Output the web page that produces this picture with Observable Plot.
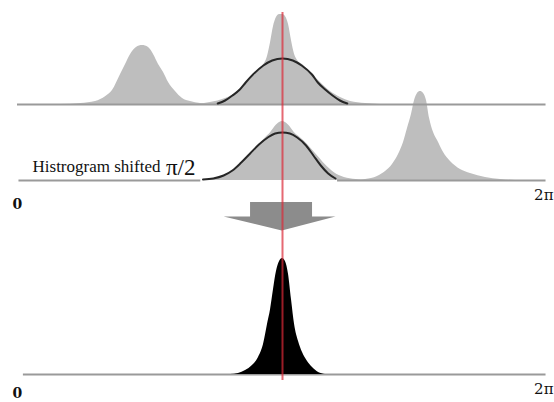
<!DOCTYPE html>
<html>
<head>
<meta charset="utf-8">
<script src="https://cdn.jsdelivr.net/npm/d3@7"></script>
<script src="https://cdn.jsdelivr.net/npm/@observablehq/plot@0.6"></script>
<style>
  html, body { margin: 0; padding: 0; background: #fff; }
  #chart { width: 554px; height: 402px; }
</style>
</head>
<body>
<div id="chart"></div>
<script>
// ---- Data (phase in degrees 0..360, histogram counts) ----
// Panel 1: original histogram
const hist1Left = [[29,0],[43,1],[53,3],[60,8],[64.5,14],[70,30],[73.4,40],[76.8,50],[80.8,57],[84.9,59],[89,57],[92.4,50],[95.8,40],[99.2,32],[102.6,22],[107.3,13],[112.1,6],[117.5,3],[124.3,1],[134.5,0]];
const hist1Center = [[121,0],[131,2],[141.3,6],[148.1,11],[154.9,20],[161.7,30],[166.4,38],[169.8,48],[171.9,62],[173.9,78],[175.9,87],[178,90],[180,90],[182,88],[184.1,80],[186.1,64],[188.2,50],[190.2,44],[193.6,40],[199,32],[205.8,22],[212.6,13],[219.4,7],[226.2,3],[236.4,1],[246.6,0]];
const fit1 = [[136,1],[141,4],[146,9],[151,15],[155,22],[160,30],[167,39],[173,44],[180,46],[187,44],[193,39],[200,30],[204,22],[209,15],[214,9],[219,4],[224,1]];
// Panel 2: histogram shifted pi/2
const hist2Center = [[126,0],[135,2],[143,6],[150,14],[157,24],[163,34],[168,42],[172,48],[175,54],[178,58],[180,59],[182,58],[185,54],[188,48],[192,43],[197,36],[203,26],[209,16],[215,8],[222,3],[230,1],[240,0]];
const hist2Right = [[229.6,0],[236.4,1],[244.5,4],[250,9],[254.7,16],[258.8,26],[262.2,38],[264.9,52],[267.6,66],[269.7,80],[271.7,87],[273.7,89],[275.8,87],[277.8,80],[279.9,62],[282.6,48],[285.3,40],[289.4,28],[294.1,19],[300.9,11],[307.7,7],[317.9,3],[328.1,1],[338.3,0]];
const fit2 = [[126,1],[133,2],[140,5],[146,10],[152,18],[158,27],[164,36],[170,43],[175,47],[180,48],[185,47],[190,43],[196,35],[201,25],[206,15],[211,7],[216,2]];
// Panel 3: combined result
const result = [[144.7,0],[150.1,1],[154.9,4],[159.6,9],[163.7,17],[167.1,30],[169.8,50],[171.9,65],[173.9,85],[175.9,103],[178,113],[180,116],[182,113],[184.1,100],[186.1,75],[188.2,50],[190.9,33],[193.6,22],[197,13],[200.4,7],[204.5,2],[209.2,0]];
// Axis range segments (degrees)
const base1 = [[0,359]];
const base2 = [[1,124.5],[217.4,359]];
const base3 = [[4,359]];
const peakPhase = 180;
const tickLabels = ["0", "2\u03c0"];
const labelText = "Histrogram shifted";
const labelShift = "\u03c0/2";

// ---- Layout (vertical offsets of panel baselines, in count units) ----
const OFF1 = 270, OFF2 = 194, OFF3 = 0;
const P = (arr, off) => arr.map(([x, h]) => ({x, y1: off, y2: off + h}));
const L = (arr, off) => arr.map(([x, h]) => ({x, y: off + h}));
const S = (segs, off) => segs.map(([a, b]) => ({x1: a, x2: b, y: off}));

const GREY = "#bebebe", BASE = "#9a9a9a";

const arrowShaft = [{x1: 158.3, x2: 200.4, y1: 157, y2: 172}];
const arrowHead = [{x: 140, y: 158}, {x: 179.5, y: 144}, {x: 216, y: 158}];

const zeroStyle = {textAnchor: "start", dx: -5, fontFamily: "DejaVu Serif", fontWeight: "bold", fontSize: 14, fill: "#111"};
const twoPiStyle = {textAnchor: "end", dx: 6, fontFamily: "DejaVu Serif", fontSize: 15, fill: "#111"};

const chart = Plot.plot({
  width: 554, height: 402,
  margin: 0,
  x: {domain: [0, 360], range: [17, 547], axis: null},
  y: {domain: [-28, 374], axis: null},
  marks: [
    Plot.areaY(P(hist1Left, OFF1), {x: "x", y1: "y1", y2: "y2", fill: GREY, curve: "monotone-x"}),
    Plot.areaY(P(hist1Center, OFF1), {x: "x", y1: "y1", y2: "y2", fill: GREY, curve: "monotone-x"}),
    Plot.areaY(P(hist2Center, OFF2), {x: "x", y1: "y1", y2: "y2", fill: GREY, curve: "monotone-x"}),
    Plot.areaY(P(hist2Right, OFF2), {x: "x", y1: "y1", y2: "y2", fill: GREY, curve: "monotone-x"}),
    Plot.ruleY(S(base1, OFF1), {x1: "x1", x2: "x2", y: "y", stroke: BASE, strokeWidth: 2}),
    Plot.ruleY(S(base2, OFF2), {x1: "x1", x2: "x2", y: "y", stroke: BASE, strokeWidth: 2}),
    Plot.ruleY(S(base3, OFF3), {x1: "x1", x2: "x2", y: "y", stroke: BASE, strokeWidth: 2}),
    Plot.line(L(fit1, OFF1), {x: "x", y: "y", stroke: "#262626", strokeWidth: 2, curve: "monotone-x"}),
    Plot.line(L(fit2, OFF2), {x: "x", y: "y", stroke: "#262626", strokeWidth: 2, curve: "monotone-x"}),
    Plot.areaY(P(result, OFF3), {x: "x", y1: "y1", y2: "y2", fill: "#000", curve: "monotone-x"}),
    Plot.rect(arrowShaft, {x1: "x1", x2: "x2", y1: "y1", y2: "y2", fill: "#8c8c8c"}),
    Plot.line(arrowHead, {x: "x", y: "y", fill: "#8c8c8c", stroke: "none"}),
    Plot.ruleX([peakPhase], {y1: -6, y2: 362, stroke: "#dc2a38", strokeOpacity: 0.7, strokeWidth: 2}),
    Plot.text([labelText], {x: 10.2, y: OFF2 + 14, text: d => d, textAnchor: "start", fontFamily: "Liberation Serif", fontSize: 17, fill: "#111"}),
    Plot.text([labelShift], {x: 100.8, y: OFF2 + 13, text: d => d, textAnchor: "start", fontFamily: "Liberation Serif", fontSize: 23, fill: "#111"}),
    Plot.text([tickLabels[0]], {x: 0, y: OFF2 - 24, text: d => d, ...zeroStyle}),
    Plot.text([tickLabels[1]], {x: 360, y: OFF2 - 15, text: d => d, ...twoPiStyle}),
    Plot.text([tickLabels[0]], {x: 0, y: OFF3 - 19, text: d => d, ...zeroStyle}),
    Plot.text([tickLabels[1]], {x: 360, y: OFF3 - 15, text: d => d, ...twoPiStyle})
  ]
});
document.getElementById("chart").appendChild(chart);
</script>
</body>
</html>
